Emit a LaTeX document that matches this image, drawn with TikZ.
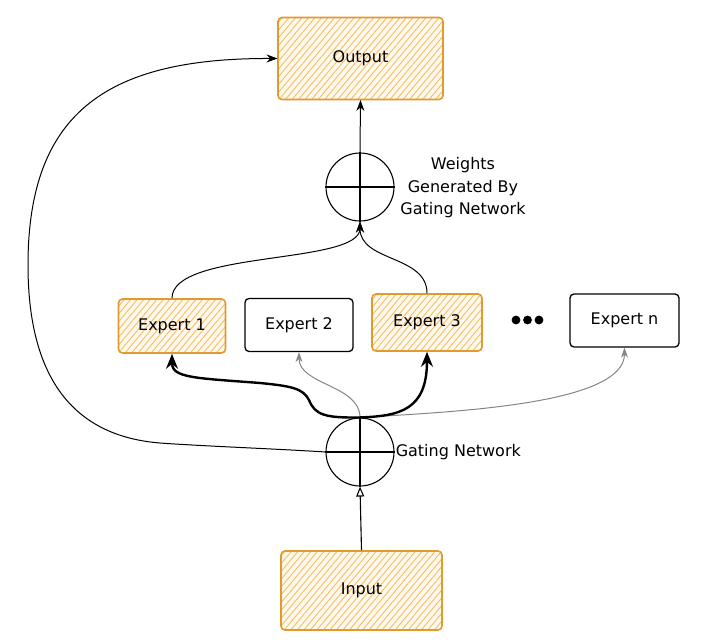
\documentclass[tikz,border=0pt]{standalone}
\usepackage{fontspec}
\setmainfont{DejaVu Sans}
\usetikzlibrary{arrows.meta,patterns.meta}
\definecolor{hborder}{HTML}{E09A2E}
\definecolor{hhatch}{HTML}{F2BF68}
\definecolor{hbg}{HTML}{FFF8EC}
\definecolor{garrow}{HTML}{858585}
\begin{document}
\begin{tikzpicture}[x=1pt,y=-1pt,
  txt/.style={font=\fontsize{16}{22.5}\selectfont},
  hbox/.style={txt,draw=hborder,line width=1.6pt,rounded corners=4pt,
    preaction={fill=hbg},
    pattern={Lines[angle=50,distance=5pt,line width=0.9pt]},pattern color=hhatch},
  wbox/.style={txt,draw=black,line width=1.3pt,rounded corners=4pt,fill=white},
  sumnode/.style={circle,draw=black,line width=1.1pt,minimum size=68pt,inner sep=0pt},
  arr/.style={draw=black,line width=1pt,-{Stealth[length=11pt,width=8pt]}},
  thickarr/.style={draw=black,line width=2.4pt,-{Stealth[length=15pt,width=12pt]}},
  grayarr/.style={draw=garrow,line width=1pt,-{Stealth[length=10pt,width=7pt]}},
  openarr/.style={draw=black,line width=1.1pt,-{Triangle[open,length=10pt,width=8pt]}}]
\useasboundingbox (0,0) rectangle (724,642);

% boxes
\node[hbox,minimum width=165pt,minimum height=82pt] (o) at (360.5,58.5) {Output};
\node[hbox,minimum width=161pt,minimum height=79pt] (in) at (361.5,590.5) {Input};
\node[hbox,minimum width=107pt,minimum height=54pt] (e1) at (172,326) {Expert 1};
\node[wbox,minimum width=108pt,minimum height=53pt] (e2) at (299,325) {Expert 2};
\node[hbox,minimum width=110pt,minimum height=57pt] (e3) at (427,322.5) {Expert 3};
\node[wbox,minimum width=109pt,minimum height=53pt] (en) at (624.5,320.5) {Expert n};

% dots
\fill (516,320) circle (4.4pt) (527.5,320) circle (4.4pt) (539,320) circle (4.4pt);

% combining circles
\node[sumnode] (w) at (360,187) {};
\node[sumnode] (g) at (360,452) {};
\draw[line width=1.1pt] (w.north) -- (w.south) (w.west) -- (w.east);
\draw[line width=1.1pt] (g.north) -- (g.south) (g.west) -- (g.east);

% labels
\node[txt,align=center] (wl) at (463,188) {Weights\\Generated By\\Gating Network};
\node[txt,anchor=west,inner sep=1pt] (gl) at (g.east) {Gating Network};

% connectors
\draw[arr] (w.north) -- (o.south);
\draw[arr] (e1.north) .. controls (172,250) and (360,265) .. (w.south);
\draw[arr] (e3.north) .. controls (427,255) and (360,262) .. (w.south);
\draw[openarr] (in.north) -- (g.south);
\draw[arr] (g.west) .. controls (280,449) and (200,446) .. (160,443)
  .. controls (60,435) and (28,360) .. (28,265)
  .. controls (28,110) and (110,58) .. (o.west);
\draw[grayarr] (g.north) .. controls (360,385) and (299,385) .. (e2.south);
\draw[grayarr] (g.north) .. controls (450,412) and (624.5,405) .. (en.south);
\draw[thickarr] (g.north) .. controls (325,418) and (315,415) .. (309,400)
  .. controls (303,388) and (290,386) .. (260,383)
  .. controls (195,378) and (172,378) .. (e1.south);
\draw[thickarr] (g.north) .. controls (400,416) and (427,410) .. (e3.south);
\end{tikzpicture}
\end{document}
